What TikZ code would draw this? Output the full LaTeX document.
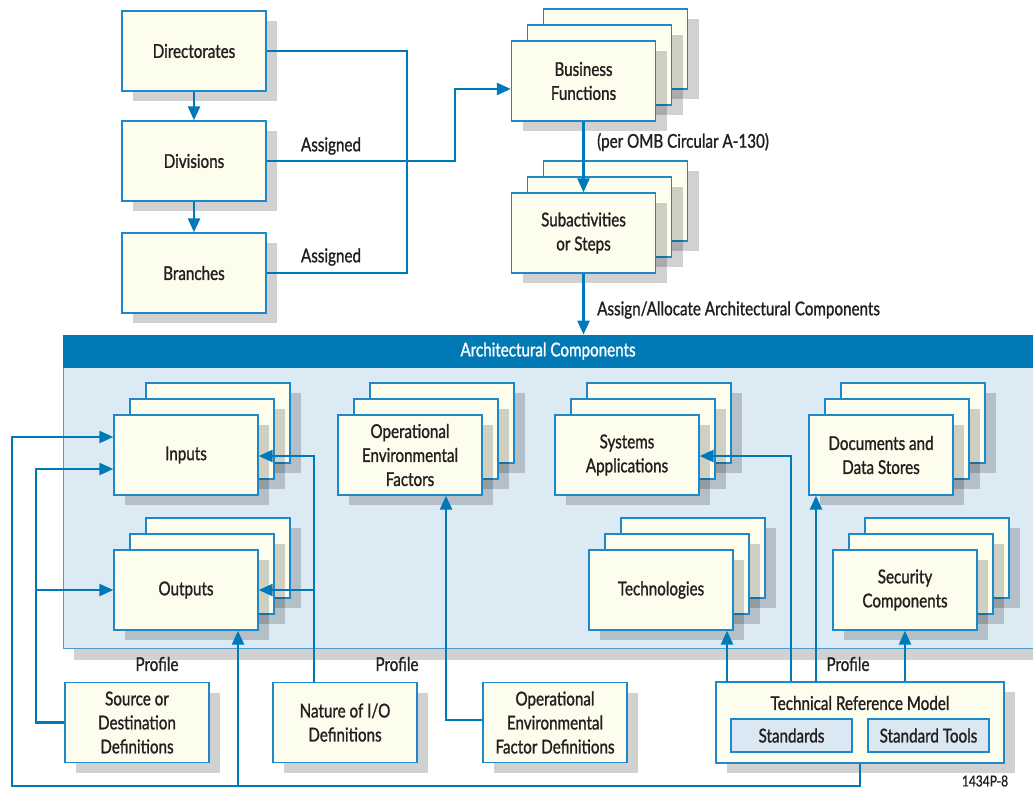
\documentclass[tikz,border=0pt]{standalone}
\usepackage{fontspec}
\setmainfont{Lato}[FakeStretch=0.8,FakeBold=1.2]
\usetikzlibrary{shadows,arrows.meta,calc}

\definecolor{cream}{HTML}{FDFDEE}
\definecolor{edge}{HTML}{1E88C8}
\definecolor{wire}{HTML}{0079B8}
\definecolor{header}{HTML}{0079B5}
\definecolor{bandbg}{HTML}{DCEAF4}
\definecolor{bandedge}{HTML}{4E9BD0}
\definecolor{stdfill}{HTML}{D9E8F3}
\definecolor{ink}{HTML}{231F20}

% a box with two copies stacked behind it
\newcommand\stackbox[4]{%
  \node[box,xshift=32pt,yshift=32pt] at (#2,#3) {};
  \node[box,xshift=16pt,yshift=16pt] at (#2,#3) {};
  \node[box] (#1) at (#2,#3) {#4};}

\begin{document}
\begin{tikzpicture}[x=1pt,y=-1pt,
  txt/.style={font=\fontsize{19}{24}\selectfont, text=ink, align=center},
  shade box/.style={drop shadow={shadow xshift=11pt,shadow yshift=-10pt,opacity=0.18,fill=black}},
  box/.style={txt, shade box, draw=edge, fill=cream, line width=1.4pt,
    minimum width=144pt, minimum height=80pt, inner sep=0pt},
  lbl/.style={txt, inner sep=0pt},
  conn/.style={draw=wire, line width=2.6pt},
  arr/.style={conn, -{Triangle[length=14pt,width=12pt]}},
]
\useasboundingbox (0,0) rectangle (1033,788);

% ---- organisation ----
\node[box] (dir) at (194,51) {Directorates};
\node[box] (div) at (194,161) {Divisions};
\node[box] (br) at (194,273) {Branches};
\draw[arr] (dir) -- (div);
\draw[arr] (div) -- (br);

% ---- business functions ----
\stackbox{bf}{583.5}{81}{Business\\Functions}
\stackbox{sub}{583.5}{233}{Subactivities\\or Steps}

\coordinate (j1) at (407,161);
\coordinate (j2) at (455,161);
\coordinate (bfin) at ($(bf.west)+(0,8)$);
\draw[conn] (dir.east) -| (j1) |- (br.east);
\draw[arr] (div.east) -- (j2) |- (bfin);
\node[lbl] at (331,146) {Assigned};
\node[lbl] at (331,257) {Assigned};

\draw[arr] (bf) -- (sub);
\node[lbl,anchor=west] at (597,142) {(per OMB Circular A-130)};

% ---- architectural components band ----
\node[draw=bandedge, fill=bandbg, line width=0.8pt, inner sep=0pt,
  minimum width=977pt, minimum height=313pt,
  drop shadow={shadow xshift=11pt,shadow yshift=-12pt,opacity=0.18,fill=black}]
  (band) at (551.5,491.5) {};
\fill[header] (band.north west) rectangle ($(band.north east)+(0,33)$);
\node[lbl,text=white] at (548,351) {Architectural Components};

\draw[arr] (sub.south) -- (sub.south |- band.north);
\node[lbl,anchor=west] at (597,310) {Assign/Allocate Architectural Components};

\stackbox{in}{186}{455}{Inputs}
\stackbox{out}{186}{590}{Outputs}
\stackbox{oef}{410}{455}{Operational\\Environmental\\Factors}
\stackbox{sa}{627}{455}{Systems\\Applications}
\stackbox{tech}{661}{590}{Technologies}
\stackbox{doc}{881}{455}{Documents and\\Data Stores}
\stackbox{sec}{905}{590}{Security\\Components}

% ---- definitions ----
\node[box] (src) at (137,722.5) {Source or\\Destination\\Definitions};
\node[box] (nat) at (345,722.5) {Nature of I/O\\Definitions};
\node[box] (oefd) at (555,722.5) {Operational\\Environmental\\Factor Definitions};
\node[box,minimum width=288pt,minimum height=81pt] (trm) at (860,722.5) {};
\node[lbl] at (860,703) {Technical Reference Model};
\node[txt,draw=edge,fill=stdfill,line width=1.4pt,minimum width=121pt,minimum height=33pt,inner sep=0pt]
  (std) at (791.5,735.5) {Standards};
\node[txt,draw=edge,fill=stdfill,line width=1.4pt,minimum width=121pt,minimum height=33pt,inner sep=0pt]
  (tools) at (928.5,735.5) {Standard Tools};

\node[lbl] at (157,664) {Profile};
\node[lbl] at (397,664) {Profile};
\node[lbl] at (848,664) {Profile};

% ---- profile connectors ----
\coordinate (bl) at (12,786);
\coordinate (bo) at (238,786);
\coordinate (inA) at ($(in.west)+(0,-18)$);
\coordinate (inB) at ($(in.west)+(0,14)$);
\draw[arr] (trm.south) |- (bl) |- (inA);
\draw[arr] (bo) -- (bo |- out.south);

\coordinate (sl) at (36,469);
\draw[arr] (src.west) -| (sl) -- (inB);
\draw[arr] (sl |- out.west) -- (out.west);

\coordinate (nl) at (314,456);
\draw[arr] (nl |- nat.north) -- (nl) -- (nl -| in.east);
\draw[arr] (nl |- out.east) -- (out.east);

\coordinate (ol) at (446,720);
\draw[arr] (oefd.west |- ol) -- (ol) -- (ol |- oef.south);

\coordinate (tc) at (727,682);
\coordinate (sc) at (791,456);
\coordinate (dc) at (816,682);
\draw[arr] (tc) -- (tc |- tech.south);
\draw[arr] (sc |- trm.north) -- (sc) -- (sc -| sa.east);
\draw[arr] (dc) -- (dc |- doc.south);
\draw[arr] (sec.south |- trm.north) -- (sec.south);

\node[txt,font=\fontsize{15}{17}\selectfont] at (985,781) {1434P-8};
\end{tikzpicture}
\end{document}
